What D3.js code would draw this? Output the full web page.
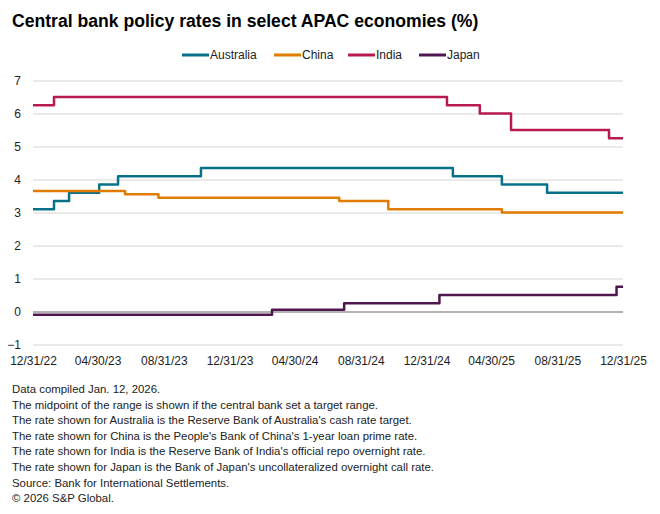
<!DOCTYPE html>
<html>
<head>
<meta charset="utf-8">
<script src="https://cdn.jsdelivr.net/npm/d3@7"></script>
<style>
  body { margin: 0; background: #fff; }
  svg text { font-family: "Liberation Sans", Arial, sans-serif; }
</style>
</head>
<body>
<svg id="chart" width="660" height="514"></svg>
<script>
// Series (change dates and the rate that applies from that date)
const australiaDates = ['2022-12-31', '2023-02-08', '2023-03-08', '2023-05-03', '2023-06-07', '2023-11-08', '2025-02-18', '2025-05-20', '2025-08-12', '2025-12-31'];
const australiaValues = [3.10, 3.35, 3.60, 3.85, 4.10, 4.35, 4.10, 3.85, 3.60, 3.60];

const chinaDates = ['2022-12-31', '2023-06-20', '2023-08-21', '2024-07-22', '2024-10-21', '2025-05-20', '2025-12-31'];
const chinaValues = [3.65, 3.55, 3.45, 3.35, 3.10, 3.00, 3.00];

const indiaDates = ['2022-12-31', '2023-02-08', '2025-02-07', '2025-04-09', '2025-06-06', '2025-12-05', '2025-12-31'];
const indiaValues = [6.25, 6.50, 6.25, 6.00, 5.50, 5.25, 5.25];

const japanDates = ['2022-12-31', '2024-03-19', '2024-07-31', '2025-01-24', '2025-12-19', '2025-12-31'];
const japanValues = [-0.10, 0.05, 0.25, 0.50, 0.75, 0.75];

const seriesNames = ['Australia', 'China', 'India', 'Japan'];
const seriesColors = ['#08718a', '#e27c00', '#b81a50', '#4f1650'];

const xTickDates = ['2022-12-31', '2023-04-30', '2023-08-31', '2023-12-31', '2024-04-30', '2024-08-31', '2024-12-31', '2025-04-30', '2025-08-31', '2025-12-31'];
const yTicks = [-1, 0, 1, 2, 3, 4, 5, 6, 7];

const titleText = 'Central bank policy rates in select APAC economies (%)';
const footnotes = [
    'Data compiled Jan. 12, 2026.',
    'The midpoint of the range is shown if the central bank set a target range.',
    "The rate shown for Australia is the Reserve Bank of Australia's cash rate target.",
    "The rate shown for China is the People's Bank of China's 1-year loan prime rate.",
    "The rate shown for India is the Reserve Bank of India's official repo overnight rate.",
    "The rate shown for Japan is the Bank of Japan's uncollateralized overnight call rate.",
    'Source: Bank for International Settlements.',
    '\u00A9 2026 S&P Global.'
];

const parse = d3.timeParse('%Y-%m-%d');
const build = (dates, values) => dates.map((d, i) => ({ date: parse(d), value: values[i] }));
const series = [
    build(australiaDates, australiaValues),
    build(chinaDates, chinaValues),
    build(indiaDates, indiaValues),
    build(japanDates, japanValues)
];

const svg = d3.select('#chart');
const plot = { left: 33, right: 623, top: 80.5, bottom: 344.5 };

const x = d3.scaleTime()
    .domain([parse('2022-12-31'), parse('2025-12-31')])
    .range([plot.left, plot.right]);

const y = d3.scaleLinear()
    .domain([-1, 7])
    .range([plot.bottom, plot.top]);

// Title
svg.append('text')
    .attr('x', 12)
    .attr('y', 27)
    .attr('font-size', '17.6px')
    .attr('font-weight', 'bold')
    .attr('fill', '#000')
    .text(titleText);

// Legend
const legendX = [182, 274, 348, 419];
seriesNames.forEach((name, i) => {
    const g = svg.append('g').attr('transform', `translate(${legendX[i]},55)`);
    g.append('line')
        .attr('x1', 0).attr('x2', 27)
        .attr('stroke', seriesColors[i])
        .attr('stroke-width', 3);
    g.append('text')
        .attr('x', 28)
        .attr('y', 4)
        .attr('font-size', '12px')
        .attr('fill', '#222')
        .text(name);
});

// Y gridlines + labels
const yAxis = d3.axisLeft(y)
    .tickValues(yTicks)
    .tickSize(-(plot.right - plot.left))
    .tickPadding(12)
    .tickFormat(d3.format('d'));

const yg = svg.append('g')
    .attr('transform', `translate(${plot.left},0)`)
    .call(yAxis);
yg.select('.domain').remove();
yg.selectAll('.tick line')
    .attr('stroke', d => d === 0 ? '#9a9a9a' : '#e3e3e3')
    .attr('stroke-width', 1.5);
yg.selectAll('.tick text')
    .attr('font-size', '12px')
    .attr('fill', '#222')
    .style('font-family', '"Liberation Sans", Arial, sans-serif');

// X labels
const xAxis = d3.axisBottom(x)
    .tickValues(xTickDates.map(parse))
    .tickSize(0)
    .tickPadding(12)
    .tickFormat(d3.timeFormat('%m/%d/%y'));

const xg = svg.append('g')
    .attr('transform', `translate(0,${plot.bottom})`)
    .call(xAxis);
xg.select('.domain').remove();
xg.selectAll('.tick text')
    .attr('font-size', '12px')
    .attr('fill', '#222')
    .style('font-family', '"Liberation Sans", Arial, sans-serif');

// Lines
const line = d3.line()
    .x(d => x(d.date))
    .y(d => y(d.value))
    .curve(d3.curveStepAfter);

series.forEach((data, i) => {
    svg.append('path')
        .datum(data)
        .attr('fill', 'none')
        .attr('stroke', seriesColors[i])
        .attr('stroke-width', 2.5)
        .attr('stroke-linejoin', 'round')
        .attr('d', line);
});

// Footnotes
svg.append('g')
    .selectAll('text')
    .data(footnotes)
    .join('text')
    .attr('x', 12)
    .attr('y', (d, i) => 393 + i * 15.6)
    .attr('font-size', '11.4px')
    .attr('fill', '#222')
    .text(d => d);
</script>
</body>
</html>
